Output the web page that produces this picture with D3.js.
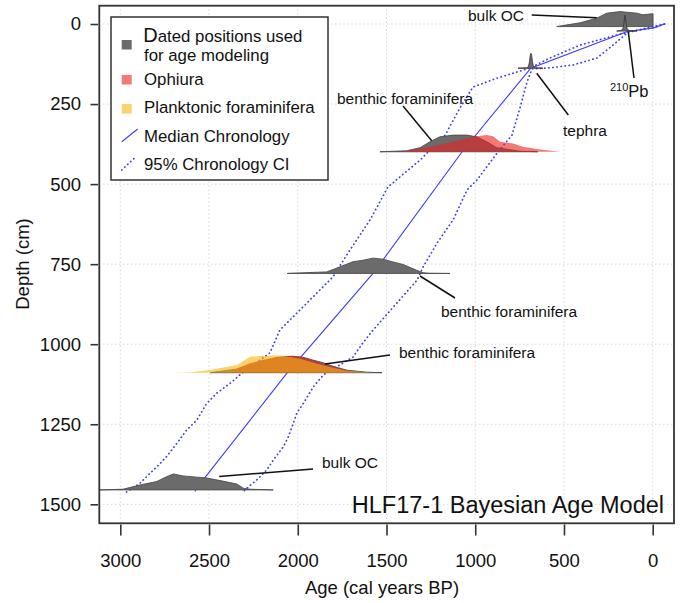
<!DOCTYPE html>
<html><head><meta charset="utf-8">
<script src="https://cdn.jsdelivr.net/npm/d3@7"></script>
<style>
html,body{margin:0;padding:0;background:#fff;}
svg{display:block;font-family:"Liberation Sans",Arial,Helvetica,sans-serif;}
</style></head>
<body>
<svg id="chart" width="681" height="603"></svg>
<script>
// ---------------- DATA ----------------
const ageTicks = [3000, 2500, 2000, 1500, 1000, 500, 0];
const depthTicks = [0, 250, 500, 750, 1000, 1250, 1500];

// chronology: [age (cal BP), depth (cm)]
const medianChron = [[-67,0],[-5,12],[147,24],[687,138],[1074,399],[1576,779],[2062,1091],[2522,1416],[2580,1460]];
const ciOld = [[-67,0],[60,16],[201,34],[410,66],[579,106],[690,137],[877,169],[1013,197],[1086,262],[1170,347],[1311,425],[1492,509],[1593,612],[1706,706],[1802,790],[2101,956],[2157,1027],[2316,1091],[2381,1122],[2457,1153],[2513,1185],[2569,1237],[2626,1268],[2682,1310],[2739,1351],[2795,1383],[2889,1434],[2945,1455],[2975,1465]];
const ciYoung = [[-67,0],[0,12],[135,24],[224,66],[314,106],[449,128],[579,137],[680,140],[708,181],[748,262],[793,347],[877,403],[990,487],[1046,518],[1125,612],[1215,684],[1294,759],[1328,800],[1576,956],[1633,996],[1689,1040],[1856,1096],[1912,1133],[1969,1185],[2006,1216],[2025,1247],[2053,1289],[2081,1320],[2138,1362],[2175,1393],[2231,1424],[2288,1450],[2310,1462]];

// dated positions (depth in cm) and relative probability [age, rel. prob]
const depthBulkTop = 8, depthPb = 22, depthTephra = 138, depthB1 = 399, depthB2 = 779, depthB3 = 1089, depthBulkBottom = 1455;

const bulkOCTop = [[541,0],[410,0.22],[316,0.49],[259,0.79],[184,0.88],[90,0.79],[55,0.69],[6,0.75],[-2,0.75],[-2,0]];
const pb210 = [[203,0],[180,0.03],[168,0.12],[162,0.47],[158,0.88],[156,0.94],[154,0.88],[150,0.47],[144,0.12],[132,0.03],[90,0]];
const tephra = [[759,0],[710,0.02],[700,0.1],[694,0.4],[690,0.75],[686,0.88],[682,0.75],[678,0.4],[672,0.1],[662,0.02],[618,0]];
const benthic1 = [[1537,0],[1386,0.06],[1311,0.24],[1255,0.59],[1199,0.88],[1125,0.98],[1048,0.98],[992,0.88],[935,0.59],[879,0.24],[748,0.03],[647,0]];
const ophiura1 = [[1407,0],[1255,0.29],[1125,0.59],[1048,0.79],[992,0.92],[935,0.98],[900,0.92],[860,0.59],[787,0.49],[731,0.29],[654,0.16],[562,0.04],[520,0]];
const benthic2 = [[2060,0],[2043,0.01],[1837,0.09],[1762,0.39],[1689,0.69],[1632,0.78],[1576,0.9],[1520,0.84],[1464,0.68],[1407,0.53],[1330,0.19],[1294,0.04],[1255,0.01],[1142,0]];
const benthic3 = [[2494,0],[2342,0.22],[2269,0.5],[2196,0.7],[2117,0.9],[2027,0.97],[1970,0.91],[1914,0.74],[1858,0.59],[1801,0.38],[1723,0.15],[1610,0.03],[1525,0]];
const ophiura3 = [[2382,0],[2342,0.25],[2269,0.55],[2196,0.76],[2117,0.92],[2044,1.0],[1987,0.94],[1931,0.79],[1874,0.62],[1801,0.35],[1723,0.12],[1649,0]];
const planktonic3 = [[2720,0],[2607,0.03],[2494,0.16],[2342,0.45],[2269,0.94],[2213,0.98],[2117,1.02],[2072,0.97],[1987,0.82],[1892,0.53],[1801,0.29],[1723,0.12],[1610,0.02],[1576,0]];
const bulkOCBottom = [[3114,0],[2985,0.04],[2889,0.29],[2795,0.49],[2739,0.78],[2701,0.94],[2645,0.82],[2570,0.75],[2523,0.72],[2457,0.59],[2382,0.43],[2344,0.35],[2307,0.1],[2269,0.04],[2138,0]];

const legendLabels = ["Ophiura", "Planktonic foraminifera", "Median Chronology", "95% Chronology CI"];

// ---------------- DRAWING ----------------
const svg = d3.select("#chart");
const L = 99.3, R = 674, T = 5.7, B = 523.3;
const x = d3.scaleLinear().domain([3118.3, -120]).range([L, R]);
const y = d3.scaleLinear().domain([-57.2, 1559.3]).range([T, B]);
const h = d3.scaleLinear().domain([0, 1]).range([0, 17]);

const GRAY = "#6b6b6b", RED = "rgba(235,30,30,0.6)", YEL = "rgba(247,180,13,0.6)";
const BLUE = "#3a3aff";

svg.append("defs").append("clipPath").attr("id","clip")
  .append("rect").attr("x",L).attr("y",T).attr("width",R-L).attr("height",B-T);

// grid
const grid = svg.append("g").attr("stroke","#c4c4c4").attr("stroke-width",1).attr("stroke-dasharray","1,3");
ageTicks.forEach(a => grid.append("line").attr("x1",x(a)).attr("x2",x(a)).attr("y1",T).attr("y2",B));
depthTicks.forEach(d => grid.append("line").attr("y1",y(d)).attr("y2",y(d)).attr("x1",L).attr("x2",R));

const plot = svg.append("g").attr("clip-path","url(#clip)");
const line = d3.line().x(d => x(d[0])).y(d => y(d[1]));

// chronology lines
[ciOld, ciYoung].forEach(ci => plot.append("path").attr("d", line(ci))
  .attr("fill","none").attr("stroke",BLUE).attr("stroke-width",1.7)
  .attr("stroke-dasharray","0.3,3.8").attr("stroke-linecap","round"));
plot.append("path").attr("d", line(medianChron)).attr("fill","none").attr("stroke",BLUE).attr("stroke-width",1.1);

// distributions
function dist(data, depth, fill, stroke) {
  const area = d3.area().x(d => x(d[0])).y0(y(depth)).y1(d => y(depth) - h(d[1]));
  plot.append("path").attr("d", area(data)).attr("fill", fill)
    .attr("stroke", stroke || "none").attr("stroke-width", stroke ? 0.9 : 0).attr("stroke-linejoin","round");
}
dist(bulkOCTop, depthBulkTop, GRAY, "#4d4d4d");
dist(pb210, depthPb, GRAY, "#3a3a3a");
dist(tephra, depthTephra, GRAY, "#3a3a3a");
dist(benthic1, depthB1, GRAY, "#4d4d4d");
dist(ophiura1, depthB1, RED);
dist(benthic2, depthB2, GRAY, "#4d4d4d");
dist(benthic3, depthB3, GRAY, "#4d4d4d");
dist(ophiura3, depthB3, RED);
dist(planktonic3, depthB3, YEL);
dist(bulkOCBottom, depthBulkBottom, GRAY, "#4d4d4d");

// annotations
const ann = svg.append("g").attr("font-size","15.5px").attr("fill","#111");
const al = svg.append("g").attr("stroke","#111").attr("stroke-width",1.5);
function annLine(x1,y1,x2,y2){ al.append("line").attr("x1",x1).attr("y1",y1).attr("x2",x2).attr("y2",y2); }
ann.append("text").attr("x",468).attr("y",21).text("bulk OC");
annLine(531.7,15,596.7,17.7);
const pbT = ann.append("text").attr("x",610).attr("y",97);
pbT.append("tspan").attr("font-size","11px").attr("dy",-6).text("210");
pbT.append("tspan").attr("font-size","16.5px").attr("dy",6).text("Pb");
annLine(628.3,31.7,634,78);
ann.append("text").attr("x",563).attr("y",136).text("tephra");
annLine(536.7,73.3,568.3,115);
ann.append("text").attr("x",337).attr("y",104).text("benthic foraminifera");
annLine(403,106,431.7,140.7);
ann.append("text").attr("x",441).attr("y",317).text("benthic foraminifera");
annLine(420,276,455,298);
ann.append("text").attr("x",399).attr("y",358).text("benthic foraminifera");
annLine(325,364,390,355);
ann.append("text").attr("x",322).attr("y",468).text("bulk OC");
annLine(219.3,476.5,313,469);

// title
svg.append("text").attr("x",664).attr("y",512.7).attr("text-anchor","end")
  .attr("font-size","23.5px").attr("fill","#111").text("HLF17-1 Bayesian Age Model");

// frame
svg.append("rect").attr("x",L).attr("y",T).attr("width",R-L).attr("height",B-T)
  .attr("fill","none").attr("stroke","#333").attr("stroke-width",1.8);

// axes
const xAxis = svg.append("g").attr("transform",`translate(0,524.5)`)
  .call(d3.axisBottom(x).tickValues(ageTicks).tickSize(11).tickPadding(18).tickFormat(d3.format("d")));
const yAxis = svg.append("g").attr("transform",`translate(98,0)`)
  .call(d3.axisLeft(y).tickValues(depthTicks).tickSize(7.5).tickPadding(9.5).tickFormat(d3.format("d")));
[xAxis, yAxis].forEach(a => {
  a.select(".domain").remove();
  a.selectAll(".tick line").attr("stroke","#333").attr("stroke-width",1.6);
  a.selectAll(".tick text").attr("fill","#111").attr("font-size","18.5px")
   .attr("font-family",'"Liberation Sans",Arial,sans-serif');
});

svg.append("text").attr("x",382).attr("y",594).attr("text-anchor","middle")
  .attr("font-size","18.5px").attr("fill","#111").text("Age (cal years BP)");
svg.append("text").attr("transform","translate(22,264) rotate(-90)").attr("text-anchor","middle")
  .attr("dominant-baseline","central").attr("font-size","18.5px").attr("fill","#111").text("Depth (cm)");

// legend
const lg = svg.append("g");
lg.append("rect").attr("x",111).attr("y",17).attr("width",217).attr("height",163)
  .attr("fill","#fff").attr("stroke","#333").attr("stroke-width",1.5);
lg.append("rect").attr("x",121.7).attr("y",40).attr("width",10).attr("height",9.5).attr("fill",GRAY);
lg.append("rect").attr("x",121.7).attr("y",75).attr("width",10).attr("height",9.5).attr("fill",RED);
lg.append("rect").attr("x",121.7).attr("y",104).attr("width",10).attr("height",9.5).attr("fill",YEL);
lg.append("line").attr("x1",121.7).attr("y1",141.7).attr("x2",137.7).attr("y2",129).attr("stroke",BLUE).attr("stroke-width",1.1);
lg.append("line").attr("x1",121.7).attr("y1",170).attr("x2",134.3).attr("y2",158.3).attr("stroke",BLUE)
  .attr("stroke-width",1.7).attr("stroke-dasharray","0.3,3.8").attr("stroke-linecap","round");
const lt = lg.append("g").attr("font-size","16.8px").attr("fill","#111");
const t1 = lt.append("text").attr("x",143.3).attr("y",41.7);
t1.append("tspan").attr("font-size","20px").text("D");
t1.append("tspan").text("ated positions used");
lt.append("text").attr("x",144).attr("y",60.7).text("for age modeling");
[85, 113.3, 141.7, 170].forEach((yy, i) => lt.append("text").attr("x",144).attr("y",yy).text(legendLabels[i]));
</script>
</body></html>
